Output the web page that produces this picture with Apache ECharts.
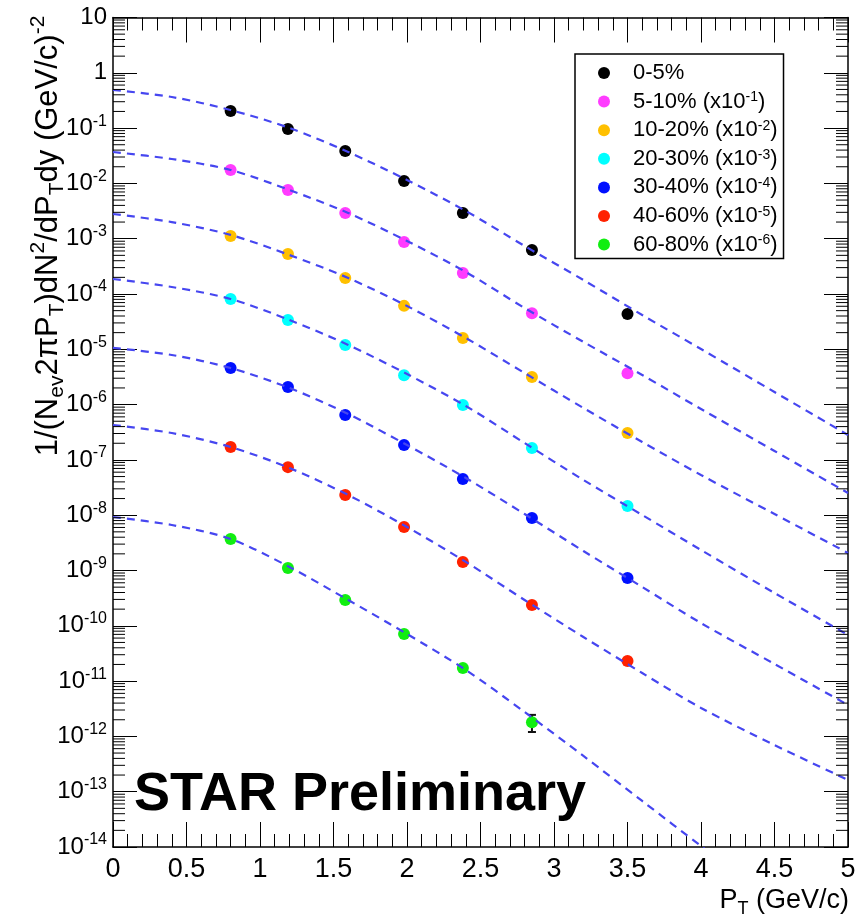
<!DOCTYPE html>
<html><head><meta charset="utf-8">
<script src="https://cdn.jsdelivr.net/npm/echarts@6/dist/echarts.min.js"></script>
<style>html,body{margin:0;padding:0;background:#fff}#c{width:866px;height:921px}</style>
</head><body><div id="c"></div>
<script>
// ---- data ----
const ptPoints = [0.8, 1.19, 1.58, 1.98, 2.38, 2.85, 3.5];
const ptCurve  = [0, 0.4, 0.8, 1.2, 1.6, 2.0, 2.4, 2.8, 3.2, 3.6, 4.0, 4.5, 5.0];
const seriesNames = ['0-5%', '5-10% (x10^-1)', '10-20% (x10^-2)', '20-30% (x10^-3)', '30-40% (x10^-4)', '40-60% (x10^-5)', '60-80% (x10^-6)'];
const seriesColors = ['#000000', '#ff3cff', '#ffc000', '#00ffff', '#0010ff', '#ff2200', '#11ee11'];

const pts_0_5   = [0.204, 0.096, 0.0385, 0.011, 2.92e-3, 6.25e-4, 4.35e-5];
const pts_5_10  = [0.0175, 7.6e-3, 2.92e-3, 8.7e-4, 2.4e-4, 4.5e-5, 3.7e-6];
const pts_10_20 = [1.12e-3, 5.3e-4, 1.95e-4, 6.1e-5, 1.6e-5, 3.15e-6, 3.06e-7];
const pts_20_30 = [8.1e-5, 3.4e-5, 1.2e-5, 3.4e-6, 9.8e-7, 1.64e-7, 1.47e-8];
const pts_30_40 = [4.6e-6, 2.08e-6, 6.5e-7, 1.86e-7, 4.5e-8, 8.9e-9, 7.3e-10];
const pts_40_60 = [1.71e-7, 7.4e-8, 2.32e-8, 6.1e-9, 1.43e-9, 2.38e-10, 2.31e-11];
const pts_60_80 = [3.7e-9, 1.11e-9, 2.93e-10, 7.1e-11, 1.73e-11, 1.8e-12];

const fit_0_5   = [0.489, 0.365, 0.212, 0.1005, 0.037, 0.0115, 3.17e-3, 7.38e-4, 1.79e-4, 4.17e-5, 1.01e-5, 1.69e-6, 2.82e-7];
const fit_5_10  = [3.7e-2, 2.76e-2, 1.75e-2, 7.6e-3, 2.92e-3, 9.08e-4, 2.5e-4, 5.58e-5, 1.36e-5, 3.43e-6, 8.32e-7, 1.45e-7, 2.52e-8];
const fit_10_20 = [2.8e-3, 2.0e-3, 1.17e-3, 5.07e-4, 1.95e-4, 6.07e-5, 1.6e-5, 3.72e-6, 8.69e-7, 2.11e-7, 5.33e-8, 1.05e-8, 2.07e-9];
const fit_20_30 = [1.87e-4, 1.34e-4, 8.13e-5, 3.39e-5, 1.2e-5, 3.57e-6, 9.44e-7, 2.02e-7, 4.34e-8, 1.01e-8, 2.35e-9, 3.92e-10, 6.82e-11];
const fit_30_40 = [1.06e-5, 7.89e-6, 4.59e-6, 2.0e-6, 6.76e-7, 1.86e-7, 4.71e-8, 1.05e-8, 2.25e-9, 5.04e-10, 1.12e-10, 2.04e-11, 3.7e-12];
const fit_40_60 = [4.28e-7, 3.06e-7, 1.71e-7, 7.14e-8, 2.32e-8, 6.12e-9, 1.43e-9, 2.93e-10, 6.27e-11, 1.4e-11, 3.27e-12, 6.98e-13, 1.63e-13];
const fit_60_80 = [9.27e-9, 6.65e-9, 3.72e-9, 1.16e-9, 2.93e-10, 7.11e-11, 1.59e-11, 2.76e-12, 4.43e-13, 6.79e-14, 1.04e-14, 1.01e-15, 9.8e-17];

const errX = [2.85];
const errLow = [1.2e-12];
const errHigh = [2.45e-12];

const yTickExponents = [1, 0, -1, -2, -3, -4, -5, -6, -7, -8, -9, -10, -11, -12, -13, -14];
const minorMantissas = [2, 3, 4, 5, 6, 7, 8, 9];

const allPts = [pts_0_5, pts_5_10, pts_10_20, pts_20_30, pts_30_40, pts_40_60, pts_60_80];
const allFits = [fit_0_5, fit_5_10, fit_10_20, fit_20_30, fit_30_40, fit_40_60, fit_60_80];

// ---- chart ----
const FONT = "'Liberation Sans', Arial, Helvetica, sans-serif";
const chart = echarts.init(document.getElementById('c'), null, {renderer: 'canvas'});

const minorVals = [];
for (let k = -14; k <= 0; k++) for (const m of minorMantissas) minorVals.push([0, m * Math.pow(10, k)]);

const series = [];
allFits.forEach((f, i) => {
  series.push({
    name: 'fit' + i, type: 'line', data: ptCurve.map((x, j) => [x, f[j]]),
    showSymbol: false, smooth: 0.3, z: 4, silent: true,
    lineStyle: {color: '#4646f0', width: 2.2, type: [8, 6]}
  });
});
allPts.forEach((p, i) => {
  series.push({
    name: seriesNames[i], type: 'scatter', data: p.map((v, j) => [ptPoints[j], v]),
    symbol: 'circle', symbolSize: 12, z: 3,
    itemStyle: {color: seriesColors[i], opacity: 1}
  });
});
series.push({
  type: 'custom', name: 'err', z: 3, silent: true,
  data: errX.map((x, i) => [x, errLow[i], errHigh[i]]),
  renderItem: (params, api) => {
    const lo = api.coord([api.value(0), api.value(1)]);
    const hi = api.coord([api.value(0), api.value(2)]);
    const st = {stroke: '#111', lineWidth: 2};
    return {type: 'group', children: [
      {type: 'line', shape: {x1: lo[0], y1: lo[1], x2: hi[0], y2: hi[1]}, style: st},
      {type: 'line', shape: {x1: lo[0] - 4, y1: lo[1], x2: lo[0] + 4, y2: lo[1]}, style: st},
      {type: 'line', shape: {x1: hi[0] - 4, y1: hi[1], x2: hi[0] + 4, y2: hi[1]}, style: st}
    ]};
  }
});
series.push({
  type: 'custom', name: 'minorTicks', z: 5, silent: true, clip: false,
  data: minorVals,
  renderItem: (params, api) => {
    const l = api.coord([0, api.value(1)]);
    const r = api.coord([5, api.value(1)]);
    const st = {stroke: '#000', lineWidth: 1};
    return {type: 'group', children: [
      {type: 'line', shape: {x1: l[0], y1: l[1], x2: l[0] + 12, y2: l[1]}, style: st},
      {type: 'line', shape: {x1: r[0] - 12, y1: r[1], x2: r[0], y2: r[1]}, style: st}
    ]};
  }
});

const xAxisCommon = {
  type: 'value', min: 0, max: 5, interval: 0.5,
  axisLine: {show: true, onZero: false, lineStyle: {color: '#000', width: 1.5}},
  axisTick: {show: true, inside: true, length: 25, lineStyle: {color: '#000', width: 1}},
  minorTick: {show: true, splitNumber: 5, length: 13, lineStyle: {color: '#000', width: 1}},
  splitLine: {show: false}
};
const yAxisCommon = {
  type: 'log', logBase: 10, min: 1e-14, max: 10, interval: 1, splitNumber: 15,
  axisLine: {show: true, onZero: false, lineStyle: {color: '#000', width: 1.5}},
  axisTick: {show: true, inside: true, length: 24, interval: 0, lineStyle: {color: '#000', width: 1}},
  minorTick: {show: false},
  splitLine: {show: false}
};

const option = {
  animation: false,
  backgroundColor: '#fff',
  grid: {left: 113, right: 18, top: 17.5, bottom: 74, containLabel: false},
  xAxis: [
    Object.assign({}, xAxisCommon, {position: 'bottom',
      axisLabel: {show: true, fontSize: 27, fontFamily: FONT, color: '#000', margin: 9, showMinLabel: true, showMaxLabel: true}}),
    Object.assign({}, xAxisCommon, {position: 'top', axisLabel: {show: false}})
  ],
  yAxis: [
    Object.assign({}, yAxisCommon, {position: 'left',
      axisLabel: {show: true, interval: 0, margin: 6, showMinLabel: true, showMaxLabel: true, color: '#000',
        formatter: v => {
          const e = Math.round(Math.log10(v));
          if (yTickExponents.indexOf(e) < 0) return '';
          if (e === 1) return '{b|10}';
          if (e === 0) return '{b|1}';
          return '{b|10}{s|' + e + '}';
        },
        rich: {
          b: {fontSize: 24, fontFamily: FONT, color: '#000', lineHeight: 30},
          s: {fontSize: 16, fontFamily: FONT, color: '#000', lineHeight: 16, verticalAlign: 'top'}
        }}}),
    Object.assign({}, yAxisCommon, {position: 'right', axisLabel: {show: false}})
  ],
  legend: {
    show: true, orient: 'vertical', left: 575, top: 54,
    data: seriesNames, icon: 'circle', itemWidth: 48, itemHeight: 12, itemGap: 6.6,
    padding: [8, 6, 3, 23], backgroundColor: '#fff', borderColor: '#000', borderWidth: 1.5, borderRadius: 0,
    selectedMode: false,
    formatter: name => '{n|' + name.replace(/\^(-?\d+)/, '}{s|$1}{n|') + '}',
    textStyle: {color: '#000', fontFamily: FONT,
      rich: {
        n: {fontSize: 22, fontFamily: FONT, color: '#000', lineHeight: 22},
        s: {fontSize: 14, fontFamily: FONT, color: '#000', lineHeight: 14, verticalAlign: 'top'}
      }}
  },
  graphic: [
    {type: 'text', x: 48, y: 236, rotation: Math.PI / 2, z: 10,
      style: {
        text: '{n|1/(N}{sb|ev}{n|2πP}{sb|T}{n|)dN}{sp|2}{n|/dP}{sb|T}{n|dy (GeV/c)}{sp|-2}',
        align: 'center', verticalAlign: 'middle', fill: '#000',
        rich: {
          n: {fontSize: 31, fontFamily: FONT, fill: '#000', lineHeight: 40},
          sb: {fontSize: 21, fontFamily: FONT, fill: '#000', lineHeight: 21, verticalAlign: 'bottom'},
          sp: {fontSize: 21, fontFamily: FONT, fill: '#000', lineHeight: 21, verticalAlign: 'top'}
        }
      }},
    {type: 'text', x: 849, y: 901, z: 10,
      style: {
        text: '{n|P}{sb|T}{n| (GeV/c)}', align: 'right', verticalAlign: 'middle', fill: '#000',
        rich: {
          n: {fontSize: 27, fontFamily: FONT, fill: '#000', lineHeight: 34},
          sb: {fontSize: 18, fontFamily: FONT, fill: '#000', lineHeight: 18, verticalAlign: 'bottom'}
        }
      }},
    {type: 'text', x: 134, y: 795, z: 10,
      style: {text: 'STAR Preliminary', fontSize: 54, fontWeight: 'bold', fontFamily: FONT,
        fill: '#000', align: 'left', verticalAlign: 'middle'}}
  ],
  series: series
};
chart.setOption(option);
</script></body></html>
